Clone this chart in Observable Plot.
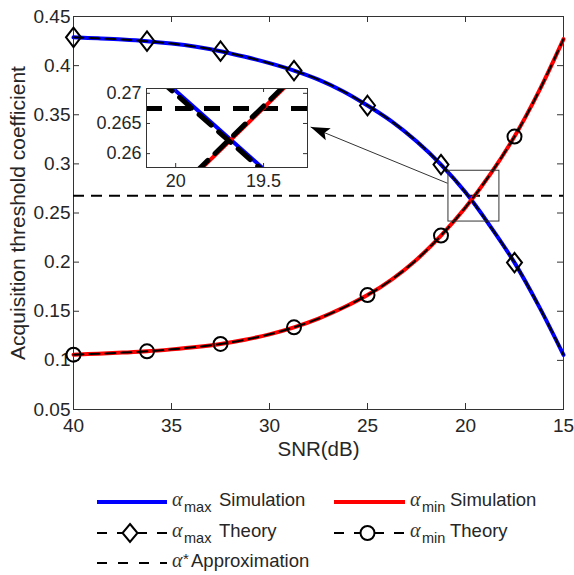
<!DOCTYPE html>
<html><head><meta charset="utf-8">
<script src="https://cdn.jsdelivr.net/npm/d3@7"></script>
<script src="https://cdn.jsdelivr.net/npm/@observablehq/plot@0.6"></script>
<style>
body{margin:0;background:#fff;}
#wrap{position:relative;width:574px;height:575px;font-family:"Liberation Sans",Arial,sans-serif;}
#wrap svg{display:block;}
#main{position:absolute;left:0;top:0;}
#inset{position:absolute;left:95px;top:80px;}
#legend{position:absolute;left:0;top:480px;}
</style></head><body>
<div id="wrap"><div id="main"></div><div id="inset"></div><div id="legend"></div></div>
<script>
// ---------- data ----------
const snr = [40,38.75,37.5,36.25,35,33.75,32.5,31.25,30,28.75,27.5,26.25,25,23.75,22.5,21.25,20,18.75,17.5,16.25,15];
const maxSim = [0.4288,0.4278,0.4266,0.4249,0.4225,0.4192,0.4147,0.4090,0.4025,0.3950,0.3858,0.3740,0.3594,0.3430,0.3230,0.2993,0.2710,0.2370,0.1995,0.1550,0.1056];
const maxTheory = [0.4288,0.4278,0.4266,0.4249,0.4225,0.4192,0.4147,0.4090,0.4025,0.3950,0.3858,0.3740,0.3594,0.3430,0.3230,0.2993,0.2708,0.2368,0.1995,0.1550,0.1056];
const minSim = [0.1058,0.1068,0.1079,0.1092,0.1112,0.1136,0.1167,0.1210,0.1265,0.1336,0.1425,0.1535,0.1665,0.1825,0.2025,0.2270,0.2555,0.2890,0.3278,0.3740,0.4270];
const minTheory = [0.1058,0.1068,0.1079,0.1092,0.1112,0.1136,0.1167,0.1210,0.1265,0.1336,0.1425,0.1535,0.1665,0.1825,0.2025,0.2270,0.2557,0.2892,0.3278,0.3740,0.4270];
const markerSNR = [40,36.25,32.5,28.75,25,21.25,17.5];
const maxMarkers = [0.4288,0.4249,0.4147,0.3950,0.3594,0.2993,0.1995];
const minMarkers = [0.1058,0.1092,0.1167,0.1336,0.1665,0.2270,0.3278];
const alphaStar = 0.2675;
const xTicks = [40,35,30,25,20,15];
const yTicks = [0.05,0.1,0.15,0.2,0.25,0.3,0.35,0.4,0.45];
// zoom box [snr1, snr2, y1, y2] and arrow [snrTail, yTail, snrHead, yHead]
const zoomBox = [20.87, 18.27, 0.2413, 0.293];
const arrowPts = [20.92, 0.2803, 27.9, 0.3375];
// inset data
const insetSNR = [20.2, 19.2];
const insetMaxSim = [0.2756, 0.2497];
const insetMaxTheory = [0.2750, 0.2494];
const insetMinSim = [0.2477, 0.2761];
const insetMinTheory = [0.2480, 0.2764];
const insetXDomain = [20.166, 19.25];
const insetYDomain = [0.2577, 0.2708];
const insetXTicks = [20, 19.5];
const insetYTicks = [0.26, 0.265, 0.27];
const xLabel = "SNR(dB)";
const yLabel = "Acquisition threshold coefficient";

// ---------- styles ----------
const FONT = "'Liberation Sans', Arial, sans-serif";
const AX = "#333333";
const TXT = "#262626";
const BLUE = "#0000ff", RED = "#ff0000";

const diamond = {
  draw(ctx, size) {
    const r = Math.sqrt(size / Math.PI);
    const h = r * 1.3;
    ctx.moveTo(0, -h); ctx.lineTo(r, 0); ctx.lineTo(0, h); ctx.lineTo(-r, 0); ctx.closePath();
  }
};

const W = 574, H = 480, mL = 73, mR = 11, mT = 16, mB = 71;
const pw = W - mL - mR, ph = H - mT - mB;
const fmt = d => String(+d.toFixed(3));

const main = Plot.plot({
  width: W, height: H, marginLeft: mL, marginRight: mR, marginTop: mT, marginBottom: mB,
  style: {fontFamily: FONT, fontSize: "19px", color: TXT, background: "white", overflow: "visible"},
  x: {domain: [40, 15]},
  y: {domain: [0.05, 0.45]},
  marks: [
    Plot.frame({stroke: AX, strokeWidth: 1}),
    Plot.tickX(xTicks, {x: d => d, insetTop: ph - 6, stroke: AX}),
    Plot.tickX(xTicks, {x: d => d, insetBottom: ph - 6, stroke: AX}),
    Plot.tickY(yTicks, {y: d => d, insetRight: pw - 6, stroke: AX}),
    Plot.tickY(yTicks, {y: d => d, insetLeft: pw - 6, stroke: AX}),
    Plot.axisX(xTicks, {tickSize: 0, tickPadding: 9, tickFormat: fmt, label: null, fill: TXT, fontSize: 19}),
    Plot.axisY(yTicks, {tickSize: 0, tickPadding: 3, tickFormat: fmt, label: null, fill: TXT, fontSize: 19}),
    Plot.text([xLabel], {frameAnchor: "bottom", dy: 46, text: d => d, fontSize: 20.5, fill: TXT}),
    Plot.text([yLabel], {frameAnchor: "left", textAnchor: "middle", dx: -55, rotate: -90, text: d => d, fontSize: 21, fill: TXT}),
    Plot.ruleY([alphaStar], {y: d => d, stroke: "black", strokeWidth: 2, strokeDasharray: "11,7"}),
    Plot.line(maxSim, {x: snr, y: d => d, stroke: BLUE, strokeWidth: 4, curve: "catmull-rom"}),
    Plot.line(minSim, {x: snr, y: d => d, stroke: RED, strokeWidth: 4, curve: "catmull-rom"}),
    Plot.line(maxTheory, {x: snr, y: d => d, stroke: "black", strokeWidth: 2, strokeDasharray: "10,6", curve: "catmull-rom"}),
    Plot.line(minTheory, {x: snr, y: d => d, stroke: "black", strokeWidth: 2, strokeDasharray: "10,6", curve: "catmull-rom"}),
    Plot.dot(maxMarkers, {x: markerSNR, y: d => d, symbol: diamond, r: 7.5, stroke: "black", strokeWidth: 2, fill: "none"}),
    Plot.dot(minMarkers, {x: markerSNR, y: d => d, r: 7, stroke: "black", strokeWidth: 2, fill: "none"}),
    Plot.rect([zoomBox], {x1: d => d[0], x2: d => d[1], y1: d => d[2], y2: d => d[3], fill: "none", stroke: AX, strokeWidth: 1}),
    Plot.link([arrowPts], {x1: d => d[0], y1: d => d[1], x2: d => d[2], y2: d => d[3], stroke: AX, strokeWidth: 1})
  ]
});
// filled arrow head
{
  const svg = d3.select(main);
  const defs = svg.append("defs");
  defs.append("marker").attr("id", "ahead").attr("markerUnits", "userSpaceOnUse")
    .attr("viewBox", "-20 -8 21 16").attr("refX", 0).attr("refY", 0)
    .attr("markerWidth", 21).attr("markerHeight", 16).attr("orient", "auto")
    .append("path").attr("d", "M-19,-6.5L0,0L-19,6.5L-15,0Z").attr("fill", "black");
  svg.selectAll("g[aria-label='link'] path").attr("marker-end", "url(#ahead)");
}
document.getElementById("main").append(main);

const iW = 217, iH = 110, imL = 51, imR = 5, imT = 8, imB = 23;
const ipw = iW - imL - imR, iph = iH - imT - imB;
const inset = Plot.plot({
  width: iW, height: iH, marginLeft: imL, marginRight: imR, marginTop: imT, marginBottom: imB,
  style: {fontFamily: FONT, fontSize: "18px", color: TXT, background: "transparent", overflow: "visible"},
  x: {domain: insetXDomain},
  y: {domain: insetYDomain},
  marks: [
    Plot.frame({fill: "white"}),
    Plot.ruleY([alphaStar], {y: d => d, stroke: "black", strokeWidth: 5, strokeDasharray: "16,13", clip: true}),
    Plot.line(insetMaxSim, {x: insetSNR, y: d => d, stroke: BLUE, strokeWidth: 4, clip: true}),
    Plot.line(insetMinSim, {x: insetSNR, y: d => d, stroke: RED, strokeWidth: 4, clip: true}),
    Plot.line(insetMaxTheory, {x: insetSNR, y: d => d, stroke: "black", strokeWidth: 5, strokeDasharray: "16,10", clip: true}),
    Plot.line(insetMinTheory, {x: insetSNR, y: d => d, stroke: "black", strokeWidth: 5, strokeDasharray: "16,10", clip: true}),
    Plot.frame({stroke: AX, strokeWidth: 1}),
    Plot.tickX(insetXTicks, {x: d => d, insetTop: iph - 4, stroke: AX}),
    Plot.tickX(insetXTicks, {x: d => d, insetBottom: iph - 4, stroke: AX}),
    Plot.tickY(insetYTicks, {y: d => d, insetRight: ipw - 4, stroke: AX}),
    Plot.tickY(insetYTicks, {y: d => d, insetLeft: ipw - 4, stroke: AX}),
    Plot.axisX(insetXTicks, {tickSize: 0, tickPadding: 7, tickFormat: fmt, label: null, fill: TXT, fontSize: 18}),
    Plot.axisY(insetYTicks, {tickSize: 0, tickPadding: 5, tickFormat: fmt, label: null, fill: TXT, fontSize: 18})
  ]
});
document.getElementById("inset").append(inset);

// ---------- legend ----------
const legendItems = [
  {row: 0, x0: 97, x1: 167, color: BLUE, width: 4, dash: null, marker: null, sym: "α", sub: "max", subX: 184, label: "Simulation", labelX: 219},
  {row: 0, x0: 334, x1: 405, color: RED, width: 4, dash: null, marker: null, sym: "α", sub: "min", subX: 422, label: "Simulation", labelX: 450, symX: 410},
  {row: 1, x0: 97, x1: 167, color: "black", width: 2, dash: "10,10", marker: "diamond", sym: "α", sub: "max", subX: 184, label: "Theory", labelX: 219},
  {row: 1, x0: 334, x1: 405, color: "black", width: 2, dash: "10,10", marker: "circle", sym: "α", sub: "min", subX: 422, label: "Theory", labelX: 450, symX: 410},
  {row: 2, x0: 97, x1: 167, color: "black", width: 2, dash: "10,11", marker: null, sym: "α", sup: "*", supX: 183, label: "Approximation", labelX: 191}
];
const rowBase = [26, 57, 87];
const lsvg = d3.create("svg").attr("width", 574).attr("height", 95).attr("font-family", FONT);
for (const it of legendItems) {
  const b = rowBase[it.row], ly = b - 4;
  const line = lsvg.append("line").attr("x1", it.x0).attr("x2", it.x1).attr("y1", ly).attr("y2", ly)
    .attr("stroke", it.color).attr("stroke-width", it.width);
  if (it.dash) line.attr("stroke-dasharray", it.dash);
  const cx = (it.x0 + it.x1) / 2 - 2;
  if (it.marker === "diamond") {
    lsvg.append("path").attr("d", `M${cx},${ly-9}L${cx+7.5},${ly}L${cx},${ly+9}L${cx-7.5},${ly}Z`)
      .attr("fill", "white").attr("stroke", "black").attr("stroke-width", 2);
  } else if (it.marker === "circle") {
    lsvg.append("circle").attr("cx", cx).attr("cy", ly).attr("r", 7)
      .attr("fill", "white").attr("stroke", "black").attr("stroke-width", 2);
  }
  const sx = it.symX ?? 172;
  lsvg.append("text").attr("x", sx).attr("y", b).attr("font-family", "'Liberation Serif', serif")
    .attr("font-style", "italic").attr("font-size", 20).attr("fill", "#333").text(it.sym);
  if (it.sub) lsvg.append("text").attr("x", it.subX).attr("y", b + 6).attr("font-size", 14.5).attr("fill", TXT).text(it.sub);
  if (it.sup) lsvg.append("text").attr("x", it.supX).attr("y", b - 3).attr("font-size", 15).attr("fill", TXT).text(it.sup);
  lsvg.append("text").attr("x", it.labelX).attr("y", b).attr("font-size", 18.5).attr("fill", TXT).text(it.label);
}
document.getElementById("legend").append(lsvg.node());
</script>
</body></html>
